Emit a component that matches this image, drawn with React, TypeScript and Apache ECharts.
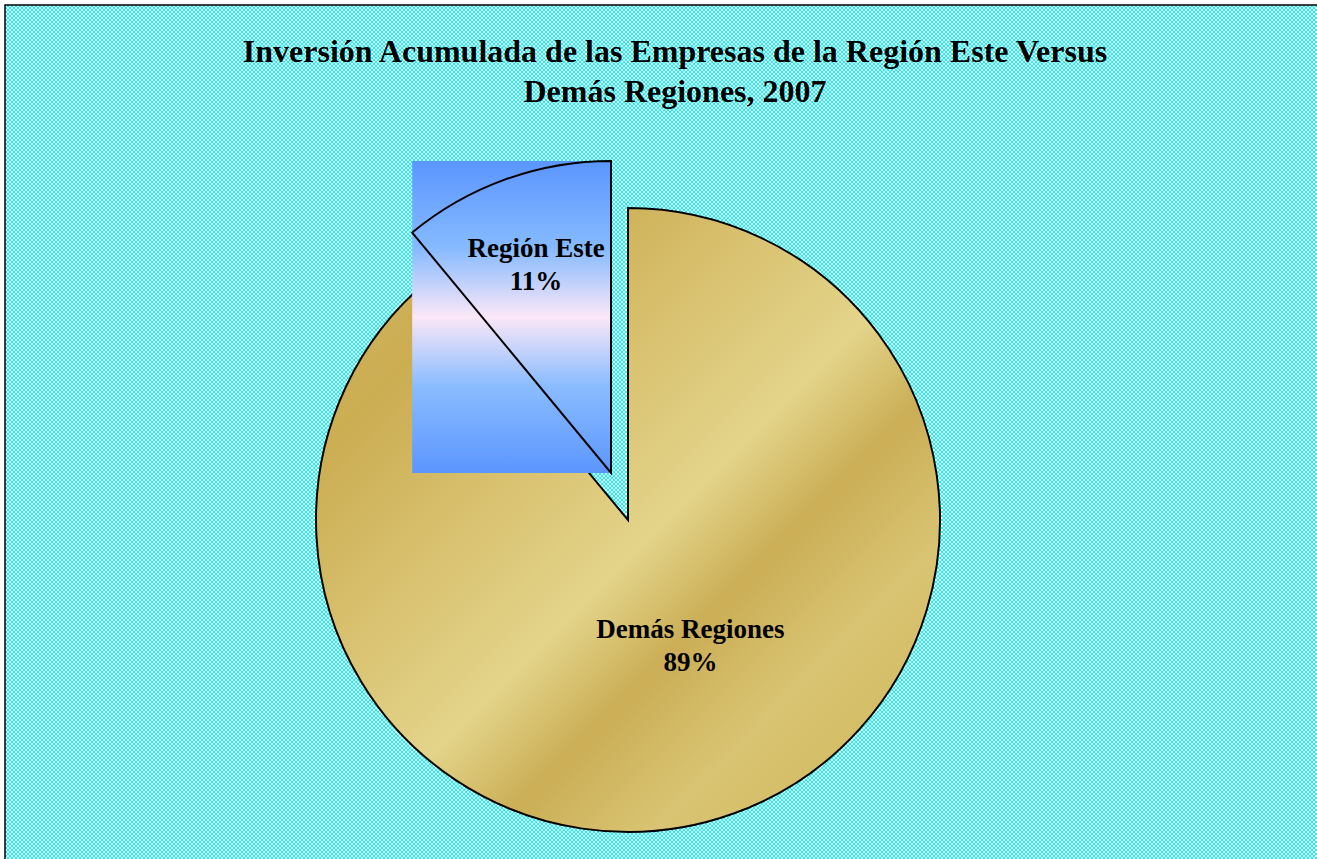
import React, { useEffect, useRef } from 'react';
import * as echarts from 'echarts';

const titleLines = [
  'Inversión Acumulada de las Empresas de la Región Este Versus',
  'Demás Regiones, 2007',
];
const categories = ['Demás Regiones', 'Región Este'];
const values = [89, 11];
const explodedCategory = 'Región Este';

// layout
const W = 1317;
const H = 859;
const CX = 628;
const CY = 520;
const R = 312;
const EXPLODE = 50;
const LABEL_RADIAL = [0.45, 0.71];
const LABEL_ANGLE_SHIFT = [-0.115, 0];

const goldStops = [
  { offset: 0, color: '#d2b85e' },
  { offset: 0.2, color: '#cbad52' },
  { offset: 0.36, color: '#d8c06e' },
  { offset: 0.53, color: '#e3d48a' },
  { offset: 0.64, color: '#cbae56' },
  { offset: 0.77, color: '#d9c473' },
  { offset: 0.9, color: '#d2ba60' },
  { offset: 1, color: '#cbad54' },
];
const blueStops = [
  { offset: 0, color: '#5b96ff' },
  { offset: 0.28, color: '#86baff' },
  { offset: 0.5, color: '#fbe7f7' },
  { offset: 0.72, color: '#8abcff' },
  { offset: 1, color: '#5b96ff' },
];

function sectorBBox(cx: number, cy: number, r: number, a0: number, a1: number) {
  const xs = [cx, cx + r * Math.cos(a0), cx + r * Math.cos(a1)];
  const ys = [cy, cy + r * Math.sin(a0), cy + r * Math.sin(a1)];
  for (let k = -8; k <= 8; k++) {
    const a = (k * Math.PI) / 2;
    if (a > a0 && a < a1) {
      xs.push(cx + r * Math.cos(a));
      ys.push(cy + r * Math.sin(a));
    }
  }
  const x = Math.min(...xs);
  const y = Math.min(...ys);
  return { x, y, width: Math.max(...xs) - x, height: Math.max(...ys) - y };
}

export default function App() {
  const ref = useRef<HTMLDivElement>(null);

  useEffect(() => {
    if (!ref.current) return;
    const chart = echarts.init(ref.current, undefined, { renderer: 'svg' });
    const total = values.reduce((a, b) => a + b, 0);

    const renderItem = (params: any, api: any) => {
      const i = params.dataIndex;
      let before = 0;
      for (let j = 0; j < i; j++) before += values[j];
      const v = api.value(0);
      const start = -Math.PI / 2 + (2 * Math.PI * before) / total;
      const end = start + (2 * Math.PI * v) / total;
      const mid = (start + end) / 2;
      const exploded = categories[i] === explodedCategory;
      const off = exploded ? EXPLODE : 0;
      const cx = CX + off * Math.cos(mid);
      const cy = CY + off * Math.sin(mid);
      const la = mid + LABEL_ANGLE_SHIFT[i];
      const lr = R * LABEL_RADIAL[i];
      const pct = Math.round((v / total) * 100) + '%';
      const shape = { cx, cy, r: R, r0: 0, startAngle: start, endAngle: end, clockwise: true };
      const label = {
        type: 'text',
        x: cx + lr * Math.cos(la),
        y: cy + lr * Math.sin(la),
        style: {
          text: categories[i] + '\n' + pct,
          fill: '#000',
          fontFamily: '"Liberation Serif", "Times New Roman", serif',
          fontWeight: 'bold',
          fontSize: 27,
          lineHeight: 33,
          align: 'center',
          verticalAlign: 'middle',
        },
      };
      if (exploded) {
        const bb = sectorBBox(cx, cy, R, start, end);
        return {
          type: 'group',
          children: [
            {
              type: 'rect',
              shape: bb,
              style: { fill: new echarts.graphic.LinearGradient(0, 0, 0, 1, blueStops), stroke: 'none' },
            },
            {
              type: 'sector',
              shape,
              style: { fill: 'none', stroke: '#000', lineWidth: 2 },
            },
            label,
          ],
        };
      }
      return {
        type: 'group',
        children: [
          {
            type: 'sector',
            shape,
            style: {
              fill: new echarts.graphic.LinearGradient(0, 0, 1, 1, goldStops),
              stroke: '#000',
              lineWidth: 2,
            },
          },
          label,
        ],
      };
    };

    chart.setOption({
      animation: false,
      backgroundColor: 'transparent',
      title: {
        text: titleLines.join('\n'),
        left: 670,
        top: 26,
        textAlign: 'center',
        textStyle: {
          fontFamily: '"Liberation Serif", "Times New Roman", serif',
          fontWeight: 'bold',
          fontSize: 32,
          lineHeight: 40,
          color: '#000',
        },
      },
      graphic: [
        {
          type: 'rect',
          silent: true,
          z: 100,
          shape: { x: 5, y: 5, width: W + 100, height: H + 100 },
          style: { fill: 'none', stroke: '#000', lineWidth: 1.5 },
        },
      ],
      series: [
        {
          type: 'custom',
          coordinateSystem: 'none',
          renderItem,
          data: values.map((v, i) => ({ name: categories[i], value: [v] })),
        },
      ],
    });
    return () => chart.dispose();
  }, []);

  return (
    <div
      style={{
        position: 'fixed',
        left: 0,
        top: 0,
        width: W,
        height: H,
        background: '#ffffff',
      }}
    >
      <div
        style={{
          position: 'absolute',
          left: 5,
          top: 5,
          right: 0,
          bottom: 0,
          background: 'repeating-conic-gradient(#00ffff 0% 25%, #ffffff 0% 50%) 0 0 / 4px 4px',
        }}
      />
      <div ref={ref} style={{ position: 'absolute', left: 0, top: 0, width: W, height: H }} />
    </div>
  );
}
